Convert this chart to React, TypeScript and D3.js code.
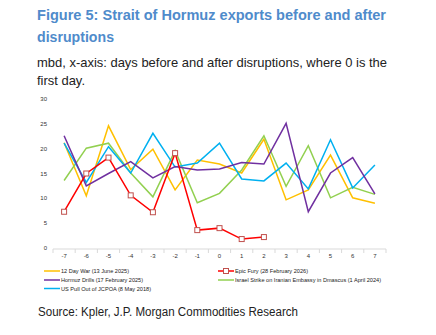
import React from "react";
import * as d3 from "d3";

const days = ["-7", "-6", "-5", "-4", "-3", "-2", "-1", "0", "1", "2", "3", "4", "5", "6", "7"];
const yTicks = [0, 5, 10, 15, 20, 25, 30];

const twelveDayWar = [21.2, 10.5, 24.6, 15.8, 19.9, 11.7, 17.7, 16.9, 15.1, 21.9, 9.7, 11.7, 18.7, 10.1, 9.0];
const hormuzDrills = [22.6, 12.5, 15.0, 17.4, 14.1, 16.4, 15.7, 15.9, 17.2, 16.9, 25.1, 7.3, 15.1, 18.2, 10.9];
const israelStrike = [13.6, 20.1, 21.1, 15.1, 10.3, 19.6, 9.1, 11.0, 15.7, 22.6, 12.4, 20.6, 10.1, 12.2, 10.8];
const usPullOut = [21.1, 13.2, 20.4, 15.1, 23.1, 16.3, 17.1, 21.1, 13.9, 13.5, 17.1, 11.9, 21.8, 12.1, 16.7];
const epicFury = [7.3, 15.0, 18.2, 10.6, 7.2, 19.1, 3.6, 4.0, 1.8, 2.2];

const seriesNames = [
  "12 Day War (13 June 2025)",
  "Epic Fury (28 February 2026)",
  "Hormuz Drills (17 February 2025)",
  "Israel Strike on Iranian Embassy in Dmascus (1 April 2024)",
  "US Pull Out of JCPOA (8 May 2018)",
];

const YELLOW = "#FFC000";
const RED = "#FF0000";
const PURPLE = "#7030A0";
const GREEN = "#92D050";
const BLUE = "#00B0F0";
const TITLE = "#4F8BCB";

export default function App() {
  const x = d3.scalePoint<string>().domain(days).range([53, 386]).padding(0.5);
  const band = d3.scaleBand<string>().domain(days).range([53, 386]);
  const y = d3.scaleLinear().domain([0, 30]).range([248, 99]);
  const line = (vals: number[]) =>
    d3.line<number>().x((_, i) => x(days[i]) as number).y((v) => y(v))(vals) || "";

  const lines = [
    { vals: twelveDayWar, color: YELLOW },
    { vals: israelStrike, color: GREEN },
    { vals: usPullOut, color: BLUE },
    { vals: hormuzDrills, color: PURPLE },
  ];

  const legend = [
    { name: seriesNames[0], color: YELLOW, x: 44, y: 271, marker: false, w: 68 },
    { name: seriesNames[2], color: PURPLE, x: 44, y: 280, marker: false, w: 82 },
    { name: seriesNames[4], color: BLUE, x: 44, y: 288.5, marker: false, w: 90 },
    { name: seriesNames[1], color: RED, x: 218, y: 271, marker: true, w: 73 },
    { name: seriesNames[3], color: GREEN, x: 218, y: 280, marker: false, w: 146 },
  ];

  const font = "Arial, 'Liberation Sans', sans-serif";
  const ticks = [...days.map((d) => band(d) as number), 386];

  return (
    <svg width={436} height={335} style={{ position: "absolute", left: 0, top: 0, background: "#fff" }} fontFamily={font}>
      <text x={37} y={20} fontSize={15.5} fontWeight="bold" fill={TITLE} textLength={349} lengthAdjust="spacingAndGlyphs">
        Figure 5: Strait of Hormuz exports before and after
      </text>
      <text x={37} y={42} fontSize={15.5} fontWeight="bold" fill={TITLE} textLength={77} lengthAdjust="spacingAndGlyphs">
        disruptions
      </text>
      <text x={37} y={66.5} fontSize={13} fill="#222" textLength={350} lengthAdjust="spacingAndGlyphs">
        mbd, x-axis: days before and after disruptions, where 0 is the
      </text>
      <text x={37} y={85} fontSize={13} fill="#222" textLength={48} lengthAdjust="spacingAndGlyphs">
        first day.
      </text>

      {yTicks.map((t) => (
        <text key={t} x={47} y={y(t) + 2} fontSize={6} textAnchor="end" fill="#333">
          {t}
        </text>
      ))}

      <line x1={53} x2={386} y1={249} y2={249} stroke="#D9D9D9" strokeWidth={1} />
      {ticks.map((tx, i) => (
        <line key={i} x1={tx} x2={tx} y1={249} y2={253} stroke="#D9D9D9" strokeWidth={1} />
      ))}
      {days.map((d) => (
        <text key={d} x={x(d)} y={258} fontSize={6} textAnchor="middle" fill="#333">
          {d}
        </text>
      ))}

      {lines.map((s, i) => (
        <path key={i} d={line(s.vals)} fill="none" stroke={s.color} strokeWidth={1.5} strokeLinejoin="miter" />
      ))}
      <path d={line(epicFury)} fill="none" stroke={RED} strokeWidth={1.5} />
      {epicFury.map((v, i) => (
        <rect key={i} x={(x(days[i]) as number) - 2.5} y={y(v) - 2.5} width={5} height={5} fill="#fff" stroke="#C0504D" strokeWidth={1} />
      ))}

      {legend.map((l, i) => (
        <g key={i}>
          <line x1={l.x} x2={l.x + 16} y1={l.y} y2={l.y} stroke={l.color} strokeWidth={1.5} />
          {l.marker && (
            <rect x={l.x + 8 - 2.5} y={l.y - 2.5} width={5} height={5} fill="#fff" stroke="#C0504D" strokeWidth={1} />
          )}
          <text x={l.x + 17} y={l.y + 2} fontSize={6} fill="#222" textLength={l.w} lengthAdjust="spacingAndGlyphs">
            {l.name}
          </text>
        </g>
      ))}

      <text x={38} y={316} fontSize={12} fill="#222" textLength={260} lengthAdjust="spacingAndGlyphs">
        Source: Kpler, J.P. Morgan Commodities Research
      </text>
    </svg>
  );
}
